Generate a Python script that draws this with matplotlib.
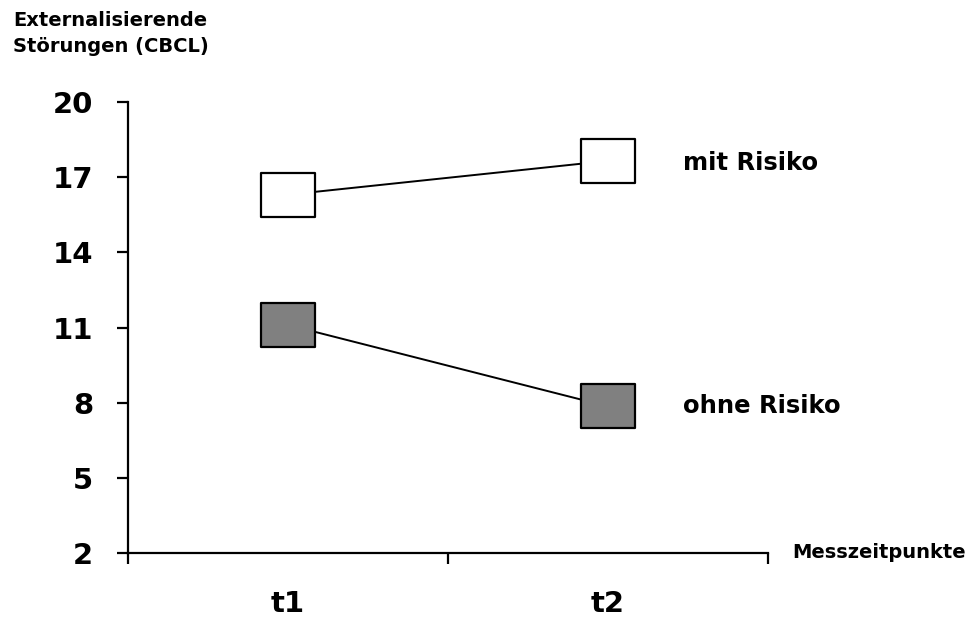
#!/usr/bin/env python3
# Externalisierende Stoerungen (CBCL) at two measurement points, with/without risk
import matplotlib
matplotlib.use("Agg")
import matplotlib.pyplot as plt
from matplotlib.path import Path

TIMEPOINTS = ["t1", "t2"]
MIT_RISIKO = [16.3, 17.65]
OHNE_RISIKO = [11.1, 7.85]
Y_TICKS = [2, 5, 8, 11, 14, 17, 20]

plt.rcParams['font.family'] = ['DejaVu Sans']

fig = plt.figure(figsize=(9.8, 6.17), dpi=100)
ax = fig.add_axes([128 / 980, 1 - 553 / 617, 640 / 980, (553 - 102) / 617])

# wide rectangle marker (Excel style)
rect = Path([(-1, -0.81), (1, -0.81), (1, 0.81), (-1, 0.81), (-1, -0.81)],
            [Path.MOVETO, Path.LINETO, Path.LINETO, Path.LINETO, Path.CLOSEPOLY])

xpos = [i + 0.5 for i in range(len(TIMEPOINTS))]
ax.plot(xpos, MIT_RISIKO, color='black', lw=1.4, marker=rect, markersize=39,
        markerfacecolor='white', markeredgecolor='black', markeredgewidth=1.6,
        clip_on=False, zorder=3)
ax.plot(xpos, OHNE_RISIKO, color='black', lw=1.4, marker=rect, markersize=39,
        markerfacecolor='#808080', markeredgecolor='black', markeredgewidth=1.6,
        clip_on=False, zorder=3)

ax.set_xlim(0, 2)
ax.set_ylim(2, 20)
ax.set_yticks(Y_TICKS)
ax.set_yticklabels([str(v) for v in Y_TICKS], fontsize=21, fontweight='bold')
ax.set_xticks([0, 1, 2])
ax.set_xticklabels([])
ax.set_xticks(xpos, minor=True)
ax.set_xticklabels(TIMEPOINTS, minor=True, fontsize=21, fontweight='bold')
ax.tick_params(axis='x', which='minor', length=0, pad=27)
ax.tick_params(axis='x', which='major', direction='out', length=8, width=1.6)
ax.tick_params(axis='y', direction='out', length=8, width=1.6, pad=17)

for s in ['top', 'right']:
    ax.spines[s].set_visible(False)
for s in ['left', 'bottom']:
    ax.spines[s].set_linewidth(1.6)

ax.text(1.735, OHNE_RISIKO[1], "ohne Risiko", fontsize=17.5, fontweight='bold',
        va='center', ha='left')
ax.text(1.735, MIT_RISIKO[1] - 0.1, "mit Risiko", fontsize=17.5, fontweight='bold',
        va='center', ha='left')
ax.text(2.075, 2, "Messzeitpunkte", fontsize=14, fontweight='bold',
        va='center', ha='left')

fig.text(13 / 980, 1 - 11 / 617, "Externalisierende\nStörungen (CBCL)",
         fontsize=14, fontweight='bold', va='top', ha='left', linespacing=1.45)

fig.savefig("out.png", dpi=100)
